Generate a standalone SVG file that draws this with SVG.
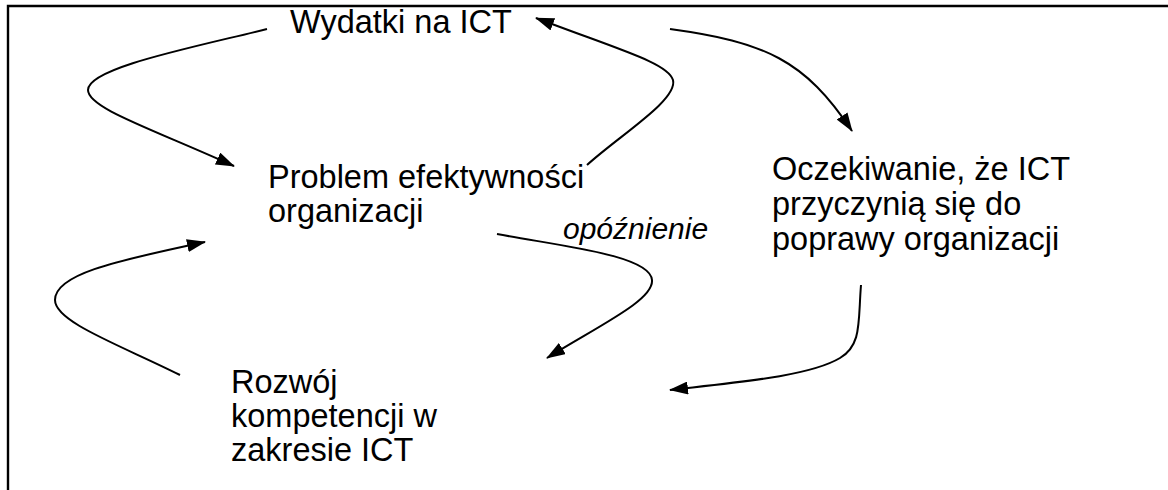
<svg xmlns="http://www.w3.org/2000/svg" width="1168" height="490" viewBox="0 0 1168 490">
  <style>
    .lbl { font-family: "Liberation Sans", Arial, sans-serif; font-size: 32.5px; fill: #000; }
    .note { font-family: "Liberation Sans", Arial, sans-serif; font-size: 30px; font-style: italic; fill: #000; }
    .edge { fill: none; stroke: #000; stroke-width: 2; marker-end: url(#arrow); }
    .frame { stroke: #000; stroke-width: 2.4; fill: none; }
  </style>
  <defs>
    <marker id="arrow" viewBox="0 0 19 13" refX="18" refY="6.5" markerWidth="19" markerHeight="13" markerUnits="userSpaceOnUse" orient="auto">
      <path d="M0,0 L19,6.5 L0,13 Z" fill="#000"/>
    </marker>
  </defs>

  <rect width="1168" height="490" fill="#fff"/>
  <!-- page frame: top and left borders -->
  <path class="frame" d="M8,490 L8,6 L1168,6"/>

  <g id="connectors">
    <path class="edge" d="M267,29 C190,48 88,68 88,90 C88,108 150,128 234,166"/>
    <path class="edge" d="M587,165 C620,135 678,100 673,80 C668,63 620,50 536,18"/>
    <path class="edge" d="M670,29 C765,42 805,60 852,131"/>
    <path class="edge" d="M497,234 C560,246 650,255 652,280 C654,300 600,325 547,358"/>
    <path class="edge" d="M861,285 C858,322 862,345 840,358 C810,376 740,382 670,390"/>
    <path class="edge" d="M180,375 C120,345 55,322 55,300 C55,275 110,262 205,242"/>
  </g>

  <g id="wydatki">
    <text class="lbl" x="290" y="33">Wydatki na ICT</text>
  </g>
  <g id="problem">
    <text class="lbl" x="268" y="188">Problem efektywności</text>
    <text class="lbl" x="268" y="222">organizacji</text>
  </g>
  <g id="opoznienie">
    <text class="note" x="563" y="239">opóźnienie</text>
  </g>
  <g id="oczekiwanie">
    <text class="lbl" x="772" y="180">Oczekiwanie, że ICT</text>
    <text class="lbl" x="772" y="215">przyczynią się do</text>
    <text class="lbl" x="772" y="250">poprawy organizacji</text>
  </g>
  <g id="rozwoj">
    <text class="lbl" x="231" y="393">Rozwój</text>
    <text class="lbl" x="231" y="427">kompetencji w</text>
    <text class="lbl" x="231" y="461">zakresie ICT</text>
  </g>
</svg>
